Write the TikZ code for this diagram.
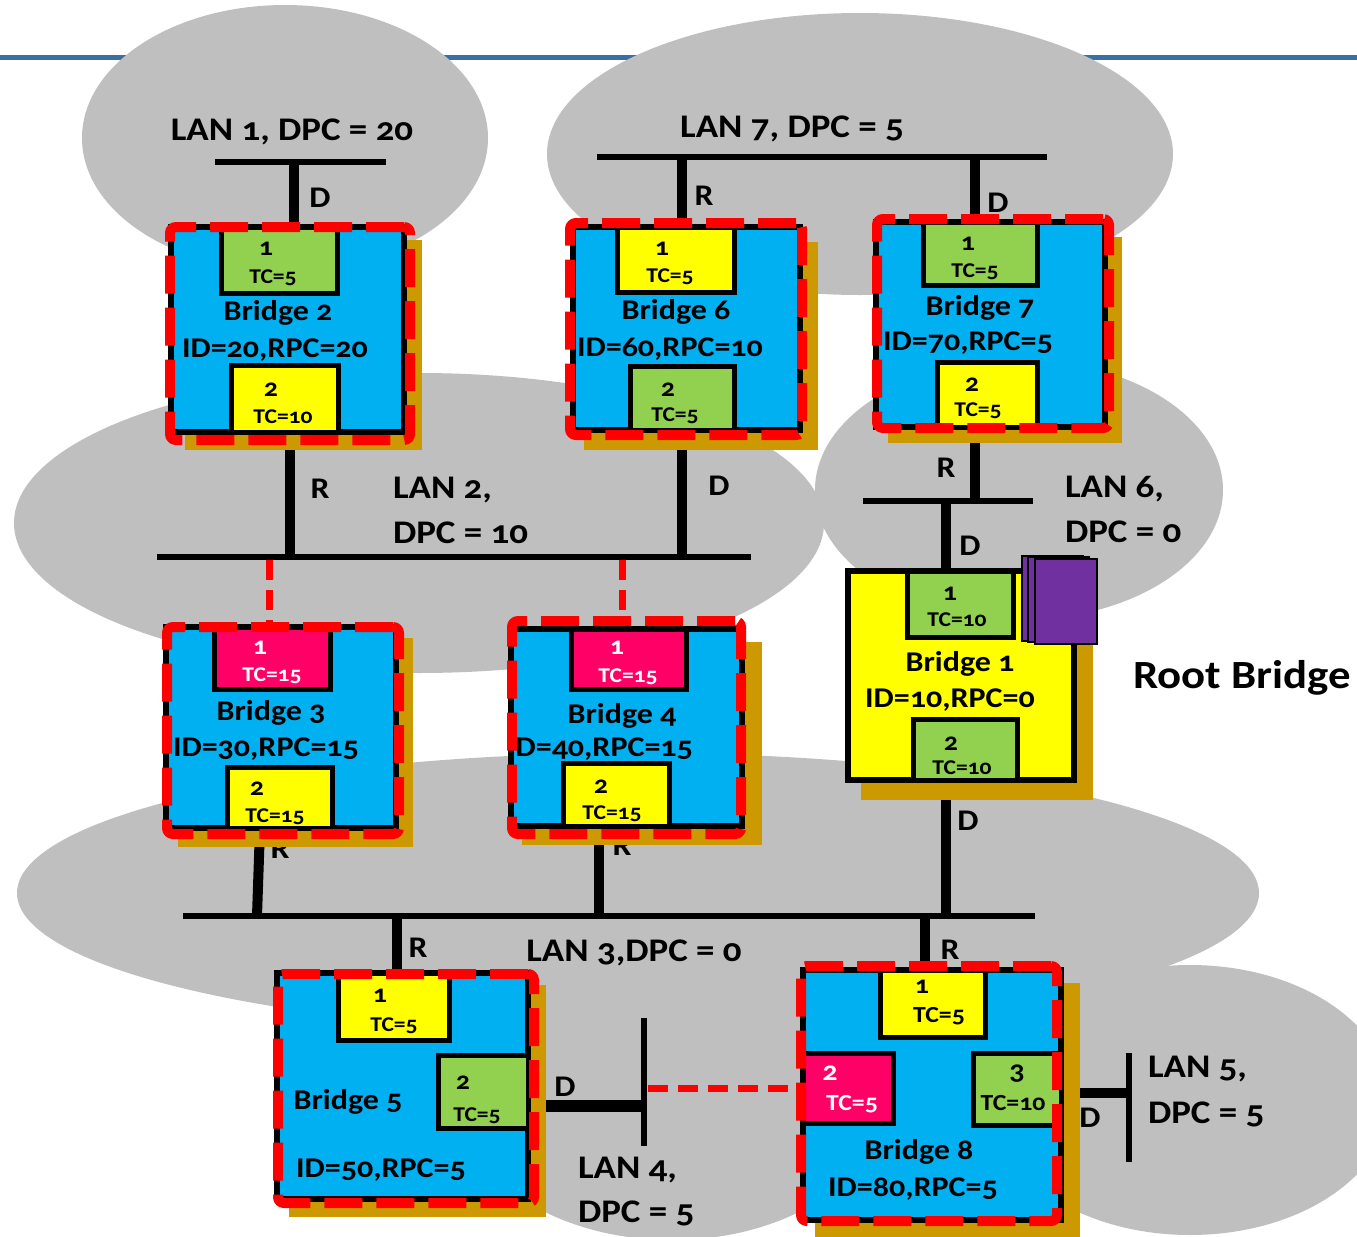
\documentclass[tikz,border=0pt]{standalone}
\usepackage{fontspec}
\setmainfont{Carlito}[Numbers=OldStyle,FakeStretch=1.12]
\definecolor{lan}{RGB}{191,191,191}
\definecolor{brblue}{RGB}{0,176,240}
\definecolor{pyel}{RGB}{255,255,0}
\definecolor{pgrn}{RGB}{146,208,80}
\definecolor{ppink}{RGB}{255,0,102}
\definecolor{gold}{RGB}{204,153,0}
\definecolor{rdash}{RGB}{255,0,0}
\definecolor{purp}{RGB}{112,48,160}
\definecolor{hdr}{RGB}{58,110,165}
\newcommand\boxnode[6]{%
  \pgfmathsetmacro\bxcx{(#3+#5)/2}%
  \pgfmathsetmacro\bxcy{(#4+#6)/2}%
  \pgfmathsetmacro\bxw{(#5-#3)/2}%
  \pgfmathsetmacro\bxh{(#6-#4)/2}%
  \node[#2, minimum width=\bxw pt, minimum height=\bxh pt] (#1) at (\bxcx,\bxcy) {};}
\tikzset{
  box/.style={rectangle, inner sep=0pt, outer sep=0pt},
  shadowbox/.style={box, fill=gold},
  bodybox/.style={box, fill=brblue, draw=black, line width=2.75pt},
  rootbox/.style={box, fill=pyel, draw=black, line width=3pt},
  portbox/.style={box, draw=black, line width=2.5pt},
  purpbox/.style={box, fill=purp, draw=black, line width=1pt},
  redframe/.style={box, draw=rdash, line width=5pt, dash pattern=on 19pt off 7pt, rounded corners=3pt},
  bus/.style={line width=2.75pt, line cap=butt},
  link/.style={line width=5pt},
  redlink/.style={draw=rdash, line width=3.5pt, dash pattern=on 10pt off 5pt},
  txt/.style={inner sep=0pt, outer sep=0pt},
  bname/.style={txt, font=\bfseries\fontsize{14.3}{17}\selectfont, text height=9.2pt, text depth=0pt},
  pnum/.style={txt, font=\bfseries\fontsize{12.5}{14}\selectfont, text height=5.8pt, text depth=0pt},
  ptc/.style={txt, font=\bfseries\fontsize{10.5}{12}\selectfont, text height=6.8pt, text depth=0pt},
  pnumb/.style={txt, font=\bfseries\fontsize{13.5}{15}\selectfont, text height=6.3pt, text depth=0pt},
  ptcb/.style={txt, font=\bfseries\fontsize{11.5}{13}\selectfont, text height=7.4pt, text depth=0pt},
  rd/.style={txt, font=\bfseries\fontsize{15}{17}\selectfont, text height=9.7pt, text depth=0pt},
  lanlab/.style={txt, font=\bfseries\fontsize{16.5}{19}\selectfont, text height=10.6pt, text depth=0pt},
  rootlab/.style={txt, font=\bfseries\fontsize{20}{24}\selectfont, text height=12.9pt, text depth=0pt},
}
\begin{document}
\begin{tikzpicture}[x=0.5pt,y=-0.5pt]
\useasboundingbox (0,0) rectangle (1357,1237);
\clip (0,0) rectangle (1357,1237);
% header line
\coordinate (h1) at (0,57); \coordinate (h2) at (1357,57);
\draw[hdr, line width=2.5pt] (h1) -- (h2);
% LAN clouds
\fill[lan] (285,138) ellipse [x radius=101.5pt, y radius=66.5pt];
\fill[lan] (860,154) ellipse [x radius=156.5pt, y radius=70.5pt];
\fill[lan] (419,523) ellipse [x radius=202.5pt, y radius=75pt];
\fill[lan] (1019,490) ellipse [x radius=102pt, y radius=65pt];
\fill[lan] (638,893) ellipse [x radius=310.5pt, y radius=70pt];
\fill[lan] (672,1095) ellipse [x radius=107.5pt, y radius=72.5pt];
\fill[lan] (1190,1100) ellipse [x radius=100pt, y radius=67.5pt];

% ---- LAN 1
\coordinate (l1a) at (215,162); \coordinate (l1b) at (386,162);
\coordinate (l1c) at (294,162); \coordinate (l1d) at (294,227);
\draw[bus] (l1a) -- (l1b);
\draw[link] (l1c) -- (l1d);
\node[rd] (l1D) at (320,198) {D};
\node[lanlab] (l1lab) at (292,130) {LAN 1, DPC = 20};
% ---- LAN 7
\coordinate (l7a) at (597,157); \coordinate (l7b) at (1047,157);
\coordinate (l7c) at (682,157); \coordinate (l7d) at (682,227);
\coordinate (l7e) at (975,157); \coordinate (l7f) at (975,222);
\draw[bus] (l7a) -- (l7b);
\draw[link] (l7c) -- (l7d);
\draw[link] (l7e) -- (l7f);
\node[rd] (l7R) at (704,196) {R};
\node[rd] (l7D) at (998,203) {D};
\node[lanlab] (l7lab) at (792,127) {LAN 7, DPC = 5};
% ---- LAN 2
\coordinate (l2a) at (157,557); \coordinate (l2b) at (751,557);
\coordinate (l2c) at (290,432); \coordinate (l2d) at (290,555);
\coordinate (l2e) at (682,430); \coordinate (l2f) at (682,555);
\coordinate (l2g) at (269,560); \coordinate (l2h) at (269,624);
\coordinate (l2i) at (622,560); \coordinate (l2j) at (622,620);
\draw[bus] (l2a) -- (l2b);
\draw[link] (l2c) -- (l2d);
\draw[link] (l2e) -- (l2f);
\draw[redlink] (l2g) -- (l2h);
\draw[redlink] (l2i) -- (l2j);
\node[rd] (l2R) at (320,489) {R};
\node[rd] (l2D) at (719,486) {D};
\node[lanlab, anchor=west] (l2lab) at (393,488) {LAN 2,};
\node[lanlab, anchor=west] (l2lab2) at (393,533) {DPC = 10};
% ---- LAN 6
\coordinate (l6a) at (863,501); \coordinate (l6b) at (1033,501);
\coordinate (l6c) at (975,427); \coordinate (l6d) at (975,501);
\coordinate (l6e) at (946,501); \coordinate (l6f) at (946,571);
\draw[bus] (l6a) -- (l6b);
\draw[link] (l6c) -- (l6d);
\draw[link] (l6e) -- (l6f);
\node[rd] (l6R) at (946,468) {R};
\node[rd] (l6D) at (970,546) {D};
\node[lanlab, anchor=west] (l6lab) at (1065,487) {LAN 6,};
\node[lanlab, anchor=west] (l6lab2) at (1065,532) {DPC = 0};
% ---- LAN 3
\coordinate (l3a) at (183,916); \coordinate (l3b) at (1035,916);
\coordinate (l3c) at (260,828); \coordinate (l3d) at (257,916);
\coordinate (l3e) at (599,826); \coordinate (l3f) at (599,916);
\coordinate (l3g) at (946,780); \coordinate (l3h) at (946,916);
\coordinate (l3i) at (397,916); \coordinate (l3j) at (397,973);
\coordinate (l3k) at (925,916); \coordinate (l3l) at (925,970);
\draw[bus] (l3a) -- (l3b);
\draw[link] (l3c) -- (l3d);
\draw[link] (l3e) -- (l3f);
\draw[link] (l3g) -- (l3h);
\draw[link] (l3i) -- (l3j);
\draw[link] (l3k) -- (l3l);
\node[rd] (l3D) at (968,821) {D};
\node[rd] (l3R1) at (280,849) {R};
\node[rd] (l3R2) at (622,846) {R};
\node[rd] (l3R3) at (418,948) {R};
\node[rd] (l3R4) at (950,950) {R};
\node[lanlab] (l3lab) at (634,951) {LAN 3,DPC = 0};
% ---- LAN 4
\coordinate (l4a) at (644,1018); \coordinate (l4b) at (644,1146);
\coordinate (l4c) at (530,1106); \coordinate (l4d) at (641,1106);
\coordinate (l4e) at (648,1088); \coordinate (l4f) at (801,1088);
\draw[bus] (l4a) -- (l4b);
\draw[line width=6pt] (l4c) -- (l4d);
\draw[redlink] (l4e) -- (l4f);
\node[rd] (l4D) at (565,1087) {D};
\node[lanlab, anchor=west] (l4lab) at (578,1168) {LAN 4,};
\node[lanlab, anchor=west] (l4lab2) at (578,1212) {DPC = 5};
% ---- LAN 5
\coordinate (l5a) at (1129,1053); \coordinate (l5b) at (1129,1162);
\coordinate (l5c) at (1061,1093); \coordinate (l5d) at (1127,1093);
\draw[bus] (l5a) -- (l5b);
\draw[link] (l5c) -- (l5d);
\node[rd] (l5D) at (1090,1118) {D};
\node[lanlab, anchor=west] (l5lab) at (1148,1067) {LAN 5,};
\node[lanlab, anchor=west] (l5lab2) at (1148,1113) {DPC = 5};

\node[rootlab] (rootlab) at (1242,676) {Root Bridge};

% ---- Bridge 2
\boxnode{b2s}{shadowbox}{185}{240}{422}{450}
\boxnode{b2}{bodybox}{171}{227}{404}{432}
\boxnode{b2p1}{portbox,fill=pgrn}{221}{227}{337}{293}
\boxnode{b2p2}{portbox,fill=pyel}{231}{365}{338}{432}
\node[pnum] (b2n1) at (266,250) {1};
\node[ptc] (b2c1) at (273,277) {TC=5};
\node[bname] (b2name) at (278,311) {Bridge 2};
\node[bname] (b2id) at (275,348) {ID=20,RPC=20};
\node[pnum] (b2n2) at (271,391) {2};
\node[ptc] (b2c2) at (283,417) {TC=10};
\boxnode{b2r}{redframe}{170}{227}{410}{440}
% ---- Bridge 6
\boxnode{b6s}{shadowbox}{584}{242}{818}{450}
\boxnode{b6}{bodybox}{573}{227}{800}{430}
\boxnode{b6p1}{portbox,fill=pyel}{617}{227}{734}{292}
\boxnode{b6p2}{portbox,fill=pgrn}{630}{366}{734}{430}
\node[pnum] (b6n1) at (662,250) {1};
\node[ptc] (b6c1) at (670,276) {TC=5};
\node[bname] (b6name) at (676,310) {Bridge 6};
\node[bname] (b6id) at (670,347) {ID=60,RPC=10};
\node[pnum] (b6n2) at (668,391) {2};
\node[ptc] (b6c2) at (675,415) {TC=5};
\boxnode{b6r}{redframe}{570}{223}{802}{435}
% ---- Bridge 7
\boxnode{b7s}{shadowbox}{888}{237}{1122}{443}
\boxnode{b7}{bodybox}{876}{222}{1105}{427}
\boxnode{b7p1}{portbox,fill=pgrn}{923}{222}{1037}{285}
\boxnode{b7p2}{portbox,fill=pyel}{937}{362}{1037}{427}
\node[pnum] (b7n1) at (968,245) {1};
\node[ptc] (b7c1) at (975,271) {TC=5};
\node[bname] (b7name) at (980,306) {Bridge 7};
\node[bname] (b7id) at (968,341) {ID=70,RPC=5};
\node[pnum] (b7n2) at (972,386) {2};
\node[ptc] (b7c2) at (978,410) {TC=5};
\boxnode{b7r}{redframe}{877}{219}{1109}{428}
% ---- Bridge 3
\boxnode{b3s}{shadowbox}{178}{638}{413}{847}
\boxnode{b3}{bodybox}{166}{627}{396}{828}
\boxnode{b3p1}{portbox,fill=ppink}{214}{627}{330}{689}
\boxnode{b3p2}{portbox,fill=pyel}{227}{767}{332}{828}
\node[pnum, text=white] (b3n1) at (260,649) {1};
\node[ptc, text=white] (b3c1) at (272,675) {TC=15};
\node[bname] (b3name) at (271,711) {Bridge 3};
\node[bname] (b3id) at (266,747) {ID=30,RPC=15};
\node[pnum] (b3n2) at (257,790) {2};
\node[ptc] (b3c2) at (275,816) {TC=15};
\boxnode{b3r}{redframe}{167}{627}{399}{834}
% ---- Bridge 4
\boxnode{b4s}{shadowbox}{522}{642}{762}{845}
\boxnode{b4}{bodybox}{511}{629}{742}{826}
\boxnode{b4p1}{portbox,fill=ppink}{571}{629}{686}{689}
\boxnode{b4p2}{portbox,fill=pyel}{563}{763}{669}{826}
\node[pnum, text=white] (b4n1) at (617,649) {1};
\node[ptc, text=white] (b4c1) at (628,676) {TC=15};
\node[bname] (b4name) at (622,714) {Bridge 4};
\node[bname] (b4id) at (600,747) {ID=40,RPC=15};
\node[pnum] (b4n2) at (601,788) {2};
\node[ptc] (b4c2) at (612,813) {TC=15};
\boxnode{b4r}{redframe}{512}{621}{741}{834}
% ---- Bridge 1 (root)
\boxnode{b1s}{shadowbox}{861}{585}{1093}{800}
\boxnode{b1}{rootbox}{848}{571}{1074}{780}
\boxnode{b1p1}{portbox,fill=pgrn}{907}{571}{1013}{637}
\boxnode{b1p2}{portbox,fill=pgrn}{913}{719}{1017}{780}
\node[pnum] (b1n1) at (950,595) {1};
\node[ptc] (b1c1) at (957,620) {TC=10};
\node[bname] (b1name) at (960,662) {Bridge 1};
\node[bname] (b1id) at (950,698) {ID=10,RPC=0};
\node[pnum] (b1n2) at (951,745) {2};
\node[ptc] (b1c2) at (962,768) {TC=10};
\boxnode{rk1}{purpbox}{1022}{556}{1083}{641}
\boxnode{rk2}{purpbox}{1028}{557}{1089}{642}
\boxnode{rk3}{purpbox}{1035}{559}{1097}{644}
% ---- Bridge 5
\boxnode{b5s}{shadowbox}{289}{985}{546}{1217}
\boxnode{b5}{bodybox}{277}{973}{528}{1199}
\boxnode{b5p1}{portbox,fill=pyel}{338}{973}{449}{1040}
\boxnode{b5p2}{portbox,fill=pgrn}{438}{1055}{528}{1128}
\node[pnum] (b5n1) at (380,997) {1};
\node[ptc] (b5c1) at (394,1025) {TC=5};
\node[bname] (b5name) at (348,1100) {Bridge 5};
\node[bname] (b5id) at (381,1168) {ID=50,RPC=5};
\node[pnum] (b5n2) at (463,1084) {2};
\node[ptc] (b5c2) at (477,1115) {TC=5};
\boxnode{b5r}{redframe}{278}{974}{534}{1203}
% ---- Bridge 8
\boxnode{b8s}{shadowbox}{815}{983}{1080}{1245}
\boxnode{b8}{bodybox}{803}{970}{1061}{1220}
\boxnode{b8p1}{portbox,fill=pyel}{880}{970}{985}{1037}
\boxnode{b8p2}{portbox,fill=ppink}{803}{1053}{893}{1123}
\boxnode{b8p3}{portbox,fill=pgrn}{973}{1053}{1061}{1125}
\node[pnum] (b8n1) at (922,988) {1};
\node[ptcb] (b8c1) at (939,1015) {TC=5};
\node[pnumb, text=white] (b8n2) at (830,1074) {2};
\node[ptcb, text=white] (b8c2) at (852,1103) {TC=5};
\node[pnumb] (b8n3) at (1017,1073) {3};
\node[ptcb] (b8c3) at (1013,1103) {TC=10};
\node[bname] (b8name) at (919,1150) {Bridge 8};
\node[bname] (b8id) at (913,1187) {ID=80,RPC=5};
\boxnode{b8r}{redframe}{801}{966}{1057}{1221}
\end{tikzpicture}
\end{document}
